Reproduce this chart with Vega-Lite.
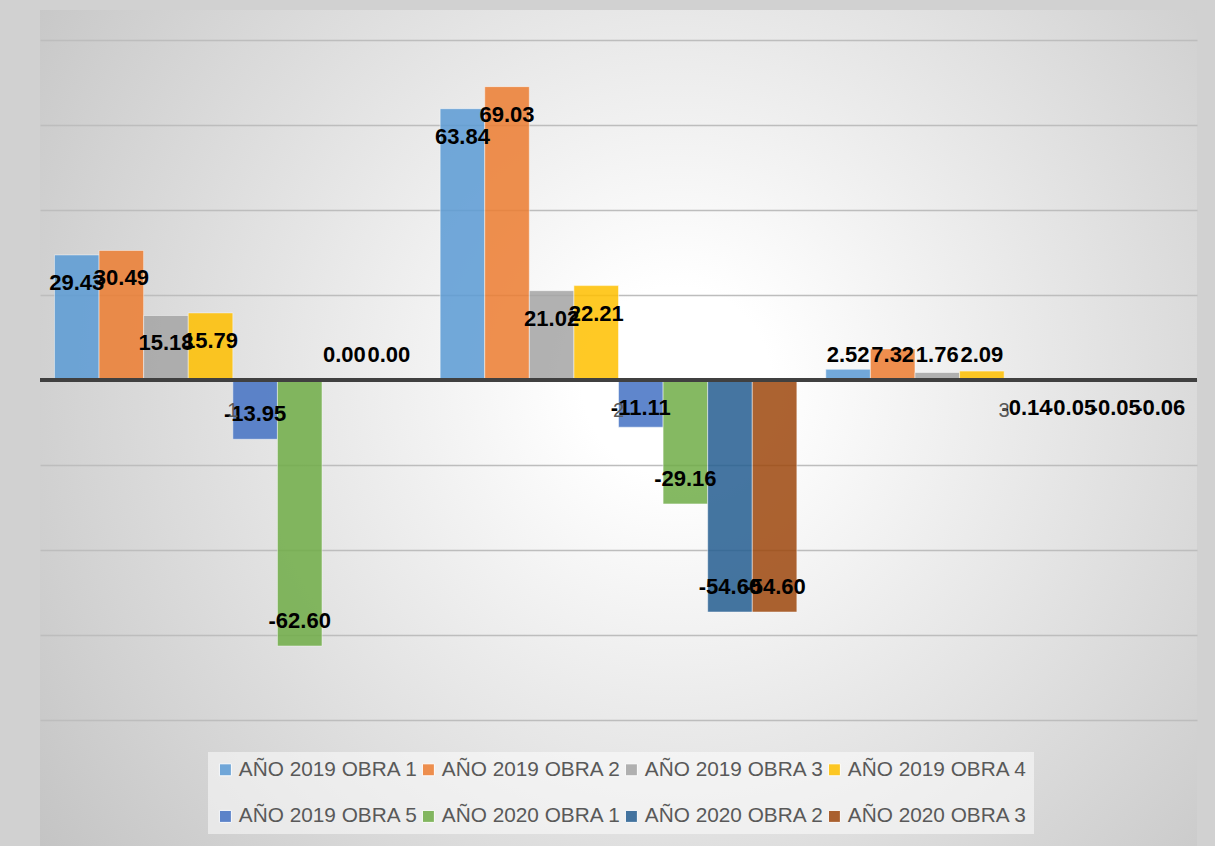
{
  "$schema": "https://vega.github.io/schema/vega-lite/v6.json",
  "width": 1157,
  "height": 836,
  "padding": {"left": 38, "top": 10, "right": 20, "bottom": 0},
  "autosize": {"type": "pad"},
  "background": "#d1d1d1",
  "config": {
    "locale": {"number": {"decimal": ".", "thousands": ",", "grouping": [3], "currency": ["$", ""], "minus": "-"}}
  },
  "view": {
    "stroke": null,
    "fill": {
      "gradient": "radial",
      "x1": 0.55, "y1": 0.46, "r1": 0,
      "x2": 0.55, "y2": 0.46, "r2": 0.68,
      "stops": [
        {"offset": 0, "color": "#ffffff"},
        {"offset": 0.12, "color": "#ffffff"},
        {"offset": 1, "color": "#c4c4c4"}
      ]
    }
  },
  "data": {
    "values": [
      {"cat": "1", "serie": "AÑO 2019 OBRA 1", "value": 29.43},
      {"cat": "1", "serie": "AÑO 2019 OBRA 2", "value": 30.49},
      {"cat": "1", "serie": "AÑO 2019 OBRA 3", "value": 15.18},
      {"cat": "1", "serie": "AÑO 2019 OBRA 4", "value": 15.79},
      {"cat": "1", "serie": "AÑO 2019 OBRA 5", "value": -13.95},
      {"cat": "1", "serie": "AÑO 2020 OBRA 1", "value": -62.60},
      {"cat": "1", "serie": "AÑO 2020 OBRA 2", "value": 0.00},
      {"cat": "1", "serie": "AÑO 2020 OBRA 3", "value": 0.00},
      {"cat": "2", "serie": "AÑO 2019 OBRA 1", "value": 63.84},
      {"cat": "2", "serie": "AÑO 2019 OBRA 2", "value": 69.03},
      {"cat": "2", "serie": "AÑO 2019 OBRA 3", "value": 21.02},
      {"cat": "2", "serie": "AÑO 2019 OBRA 4", "value": 22.21},
      {"cat": "2", "serie": "AÑO 2019 OBRA 5", "value": -11.11},
      {"cat": "2", "serie": "AÑO 2020 OBRA 1", "value": -29.16},
      {"cat": "2", "serie": "AÑO 2020 OBRA 2", "value": -54.60},
      {"cat": "2", "serie": "AÑO 2020 OBRA 3", "value": -54.60},
      {"cat": "3", "serie": "AÑO 2019 OBRA 1", "value": 2.52},
      {"cat": "3", "serie": "AÑO 2019 OBRA 2", "value": 7.32},
      {"cat": "3", "serie": "AÑO 2019 OBRA 3", "value": 1.76},
      {"cat": "3", "serie": "AÑO 2019 OBRA 4", "value": 2.09},
      {"cat": "3", "serie": "AÑO 2019 OBRA 5", "value": -0.14},
      {"cat": "3", "serie": "AÑO 2020 OBRA 1", "value": -0.05},
      {"cat": "3", "serie": "AÑO 2020 OBRA 2", "value": -0.05},
      {"cat": "3", "serie": "AÑO 2020 OBRA 3", "value": -0.06}
    ]
  },
  "layer": [
    {
      "mark": {"type": "bar", "opacity": 0.85, "stroke": "#ffffff", "strokeWidth": 1, "strokeOpacity": 0.5},
      "encoding": {
        "x": {"field": "cat", "type": "nominal", "axis": null, "scale": {"paddingInner": 0.075, "paddingOuter": 0.0375}},
        "xOffset": {"field": "serie", "type": "nominal", "sort": ["AÑO 2019 OBRA 1", "AÑO 2019 OBRA 2", "AÑO 2019 OBRA 3", "AÑO 2019 OBRA 4", "AÑO 2019 OBRA 5", "AÑO 2020 OBRA 1", "AÑO 2020 OBRA 2", "AÑO 2020 OBRA 3"], "scale": {"paddingInner": 0, "paddingOuter": 0}},
        "y": {
          "field": "value", "type": "quantitative",
          "scale": {"domain": [-109.65, 87.06], "nice": false, "zero": false},
          "axis": {"values": [-80, -60, -40, -20, 0, 20, 40, 60, 80], "labels": false, "ticks": false, "domain": false, "grid": true, "gridColor": "#bdbdbd", "gridWidth": 1.5, "title": null}
        },
        "color": {
          "field": "serie", "type": "nominal",
          "scale": {
            "domain": ["AÑO 2019 OBRA 1", "AÑO 2019 OBRA 2", "AÑO 2019 OBRA 3", "AÑO 2019 OBRA 4", "AÑO 2019 OBRA 5", "AÑO 2020 OBRA 1", "AÑO 2020 OBRA 2", "AÑO 2020 OBRA 3"],
            "range": ["#5B9BD5", "#ED7D31", "#A5A5A5", "#FFC000", "#4472C4", "#70AD47", "#255E91", "#9E480E"]
          },
          "legend": {
            "orient": "none", "legendX": 168, "legendY": 742, "direction": "horizontal", "columns": 4, "title": null,
            "symbolType": "square", "symbolSize": 144, "symbolOpacity": 0.85, "symbolStrokeColor": "#ffffff", "symbolStrokeWidth": 1,
            "labelFont": "Liberation Sans", "labelFontSize": 20.8, "labelColor": "#595959", "labelLimit": 300, "labelOffset": 3,
            "rowPadding": 25, "columnPadding": -1, "padding": 7,
            "fillColor": "rgba(255,255,255,0.5)"
          }
        }
      }
    },
    {
      "mark": {"type": "rule", "color": "#404040", "strokeWidth": 3.5},
      "encoding": {"y": {"datum": 0}}
    },
    {
      "transform": [{"filter": "datum.value >= 12.2"}],
      "mark": {"type": "text", "font": "Liberation Sans", "fontWeight": "bold", "fontSize": 22, "color": "#000000", "baseline": "middle", "dy": 28},
      "encoding": {
        "x": {"field": "cat", "type": "nominal"},
        "xOffset": {"field": "serie", "type": "nominal", "sort": ["AÑO 2019 OBRA 1", "AÑO 2019 OBRA 2", "AÑO 2019 OBRA 3", "AÑO 2019 OBRA 4", "AÑO 2019 OBRA 5", "AÑO 2020 OBRA 1", "AÑO 2020 OBRA 2", "AÑO 2020 OBRA 3"]},
        "y": {"field": "value", "type": "quantitative"},
        "text": {"field": "value", "type": "quantitative", "format": ".2f"}
      }
    },
    {
      "transform": [{"filter": "datum.value >= 0 && datum.value < 12.2"}],
      "mark": {"type": "text", "font": "Liberation Sans", "fontWeight": "bold", "fontSize": 22, "color": "#000000", "baseline": "middle", "dy": -25},
      "encoding": {
        "x": {"field": "cat", "type": "nominal"},
        "xOffset": {"field": "serie", "type": "nominal", "sort": ["AÑO 2019 OBRA 1", "AÑO 2019 OBRA 2", "AÑO 2019 OBRA 3", "AÑO 2019 OBRA 4", "AÑO 2019 OBRA 5", "AÑO 2020 OBRA 1", "AÑO 2020 OBRA 2", "AÑO 2020 OBRA 3"]},
        "y": {"datum": 0},
        "text": {"field": "value", "type": "quantitative", "format": ".2f"}
      }
    },
    {
      "transform": [{"filter": "datum.value <= -12.2"}],
      "mark": {"type": "text", "font": "Liberation Sans", "fontWeight": "bold", "fontSize": 22, "color": "#000000", "baseline": "middle", "dy": -25},
      "encoding": {
        "x": {"field": "cat", "type": "nominal"},
        "xOffset": {"field": "serie", "type": "nominal", "sort": ["AÑO 2019 OBRA 1", "AÑO 2019 OBRA 2", "AÑO 2019 OBRA 3", "AÑO 2019 OBRA 4", "AÑO 2019 OBRA 5", "AÑO 2020 OBRA 1", "AÑO 2020 OBRA 2", "AÑO 2020 OBRA 3"]},
        "y": {"field": "value", "type": "quantitative"},
        "text": {"field": "value", "type": "quantitative", "format": ".2f"}
      }
    },
    {
      "transform": [{"filter": "datum.value < 0 && datum.value > -12.2"}],
      "mark": {"type": "text", "font": "Liberation Sans", "fontWeight": "bold", "fontSize": 22, "color": "#000000", "baseline": "middle", "dy": 28},
      "encoding": {
        "x": {"field": "cat", "type": "nominal"},
        "xOffset": {"field": "serie", "type": "nominal", "sort": ["AÑO 2019 OBRA 1", "AÑO 2019 OBRA 2", "AÑO 2019 OBRA 3", "AÑO 2019 OBRA 4", "AÑO 2019 OBRA 5", "AÑO 2020 OBRA 1", "AÑO 2020 OBRA 2", "AÑO 2020 OBRA 3"]},
        "y": {"datum": 0},
        "text": {"field": "value", "type": "quantitative", "format": ".2f"}
      }
    },
    {
      "data": {"values": [{"cat": "1"}, {"cat": "2"}, {"cat": "3"}]},
      "mark": {"type": "text", "font": "Liberation Sans", "fontSize": 20, "color": "#595959", "baseline": "middle", "dy": 31},
      "encoding": {
        "x": {"field": "cat", "type": "nominal"},
        "y": {"datum": 0},
        "text": {"field": "cat", "type": "nominal"}
      }
    }
  ]
}
